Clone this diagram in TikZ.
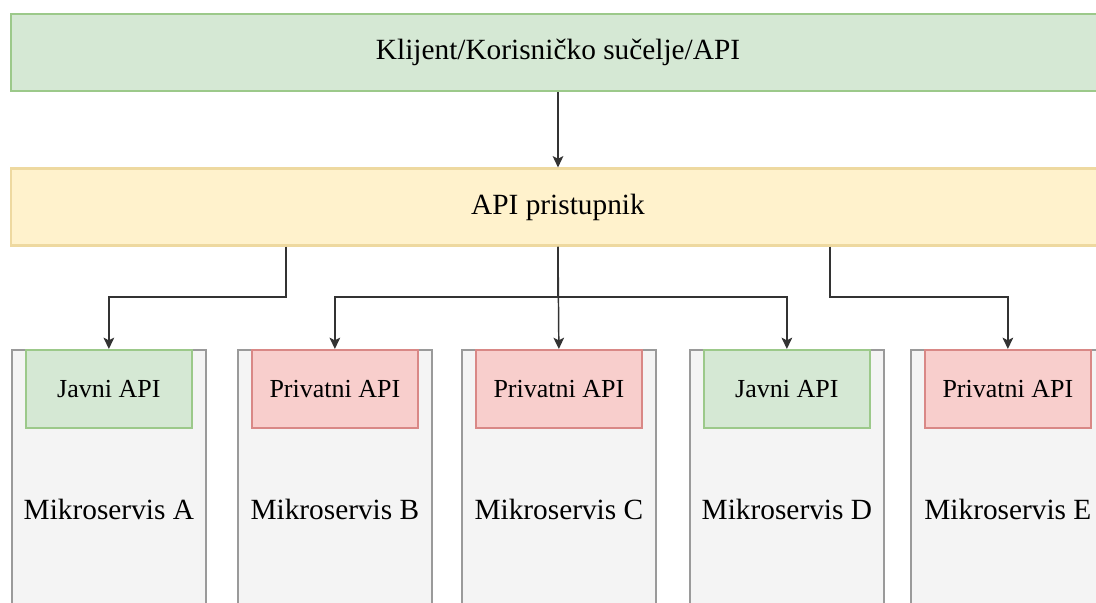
\documentclass[tikz,border=0pt]{standalone}
\usepackage{fontspec}
\setmainfont{Liberation Serif}
\usetikzlibrary{arrows.meta}
\definecolor{gfill}{HTML}{D5E8D4}
\definecolor{gline}{HTML}{9CC98A}
\definecolor{yfill}{HTML}{FFF2CC}
\definecolor{yline}{HTML}{EED9A0}
\definecolor{rfill}{HTML}{F8CECC}
\definecolor{rline}{HTML}{D98886}
\definecolor{sfill}{HTML}{F4F4F4}
\definecolor{sline}{HTML}{9A9A9A}
\definecolor{wire}{HTML}{333333}
\tikzset{
  bar/.style={draw, line width=1.6pt, minimum width=820.5pt, minimum height=57.75pt, font=\fontsize{22}{26}\selectfont, inner sep=0pt},
  svc/.style={draw=sline, fill=sfill, line width=1.3pt, minimum width=145.5pt, minimum height=240pt, anchor=north west, inner sep=0pt},
  svclabel/.style={font=\fontsize{22}{26}\selectfont, inner sep=0pt},
  api/.style={line width=1.3pt, minimum width=124.5pt, minimum height=58.5pt, anchor=north, font=\fontsize{19.5}{23}\selectfont, inner sep=0pt},
  pub/.style={api, draw=gline, fill=gfill},
  priv/.style={api, draw=rline, fill=rfill},
  arr/.style={draw=wire, line width=1.1pt, -{Stealth[length=8.5pt,width=8pt,inset=2pt]}}
}
\begin{document}
\begin{tikzpicture}[x=0.75pt,y=-0.75pt]
\useasboundingbox (0,0) rectangle (1096,603);
\clip (0,0) rectangle (1096,603);
\node[bar, draw=gline, fill=gfill] (client) at (558,52.5) {Klijent/Korisničko sučelje/API};
\node[bar, draw=yline, fill=yfill] (gw) at (558,207) {API pristupnik};
\node[svc] (sA) at (11,349) {};
\node[svc] (sB) at (237,349) {};
\node[svc] (sC) at (461,349) {};
\node[svc] (sD) at (689,349) {};
\node[svc] (sE) at (910,349) {};
\node[svclabel] (tA) at ([yshift=-120pt]sA.north) {Mikroservis A};
\node[svclabel] (tB) at ([yshift=-120pt]sB.north) {Mikroservis B};
\node[svclabel] (tC) at ([yshift=-120pt]sC.north) {Mikroservis C};
\node[svclabel] (tD) at ([yshift=-120pt]sD.north) {Mikroservis D};
\node[svclabel] (tE) at ([yshift=-120pt]sE.north) {Mikroservis E};
\node[pub] (aA) at (sA.north) {Javni API};
\node[priv] (aB) at (sB.north) {Privatni API};
\node[priv] (aC) at (sC.north) {Privatni API};
\node[pub] (aD) at (sD.north) {Javni API};
\node[priv] (aE) at (sE.north) {Privatni API};
\coordinate (busL) at (286,297);
\coordinate (busR) at (830,297);
\draw[arr] (client.south) -- (gw.north);
\draw[arr] (busL |- gw.south) -- (busL) -| (aA.north);
\draw[arr] (gw.south) -- (gw.south |- busL) -| (aB.north);
\draw[arr] (gw.south) -- (aC.north);
\draw[arr] (gw.south) -- (gw.south |- busL) -| (aD.north);
\draw[arr] (busR |- gw.south) -- (busR) -| (aE.north);
\end{tikzpicture}
\end{document}
